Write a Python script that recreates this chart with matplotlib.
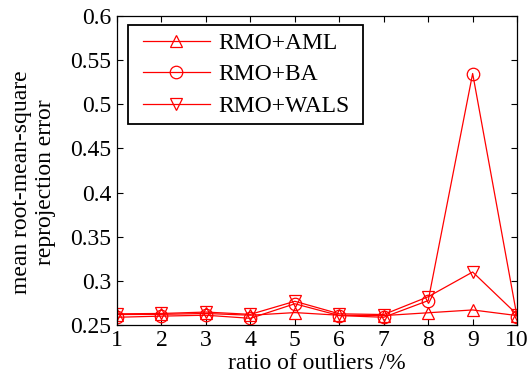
import matplotlib
matplotlib.use("Agg")
import matplotlib.pyplot as plt
from matplotlib.patches import Rectangle

plt.rcParams['font.family'] = ['Liberation Serif', 'DejaVu Serif']

ratio = [1, 2, 3, 4, 5, 6, 7, 8, 9, 10]
rmo_aml = [0.2618, 0.262, 0.263, 0.261, 0.264, 0.261, 0.2606, 0.2638, 0.267, 0.2606]
rmo_ba = [0.2587, 0.260, 0.261, 0.2575, 0.274, 0.2606, 0.2587, 0.2776, 0.535, 0.259]
rmo_wals = [0.2626, 0.263, 0.2646, 0.262, 0.2768, 0.2626, 0.2618, 0.282, 0.310, 0.2618]

fig = plt.figure(figsize=(5.32, 3.85), dpi=100)
ax = fig.add_axes([0.22, 0.156, 0.752, 0.802])

style = dict(color='red', lw=0.9, markersize=9, markerfacecolor='none',
             markeredgecolor='red', markeredgewidth=0.9)
ax.plot(ratio, rmo_aml, marker='^', label='RMO+AML', **style)
ax.plot(ratio, rmo_ba, marker='o', label='RMO+BA', **style)
ax.plot(ratio, rmo_wals, marker='v', label='RMO+WALS', **style)

ax.set_xlim(1, 10)
ax.set_ylim(0.25, 0.6)
ax.set_xticks(ratio)
ax.set_yticks([0.25, 0.3, 0.35, 0.4, 0.45, 0.5, 0.55, 0.6])
ax.set_yticklabels(['0.25', '0.3', '0.35', '0.4', '0.45', '0.5', '0.55', '0.6'])
ax.tick_params(direction='in', top=True, right=True, labelsize=17, length=4, width=0.8, pad=4)
for s in ax.spines.values():
    s.set_linewidth(0.9)

ax.set_xlabel('ratio of outliers /%', fontsize=17, labelpad=1)
ax.set_ylabel('mean root-mean-square\nreprojection error', fontsize=17,
              linespacing=1.2, va='center')
ax.yaxis.set_label_coords(-0.209, 0.463)

# legend without its own frame; the box is drawn by hand so it can have
# more padding left/right than top/bottom (like the matlab one)
leg = ax.legend(loc='upper left', fontsize=17, frameon=False,
                handlelength=2.85, handletextpad=0.35, borderpad=0.3,
                labelspacing=0.42, borderaxespad=0, bbox_to_anchor=(0.046, 0.97))
fig.canvas.draw()
bb = leg.get_window_extent().transformed(fig.transFigure.inverted())
padx = 7 / fig.bbox.width
fig.add_artist(Rectangle((bb.x0 - padx, bb.y0), bb.width + 2 * padx, bb.height,
                         transform=fig.transFigure, fill=False, edgecolor='black',
                         lw=1.3, zorder=5))

fig.savefig('out.png', dpi=100)
